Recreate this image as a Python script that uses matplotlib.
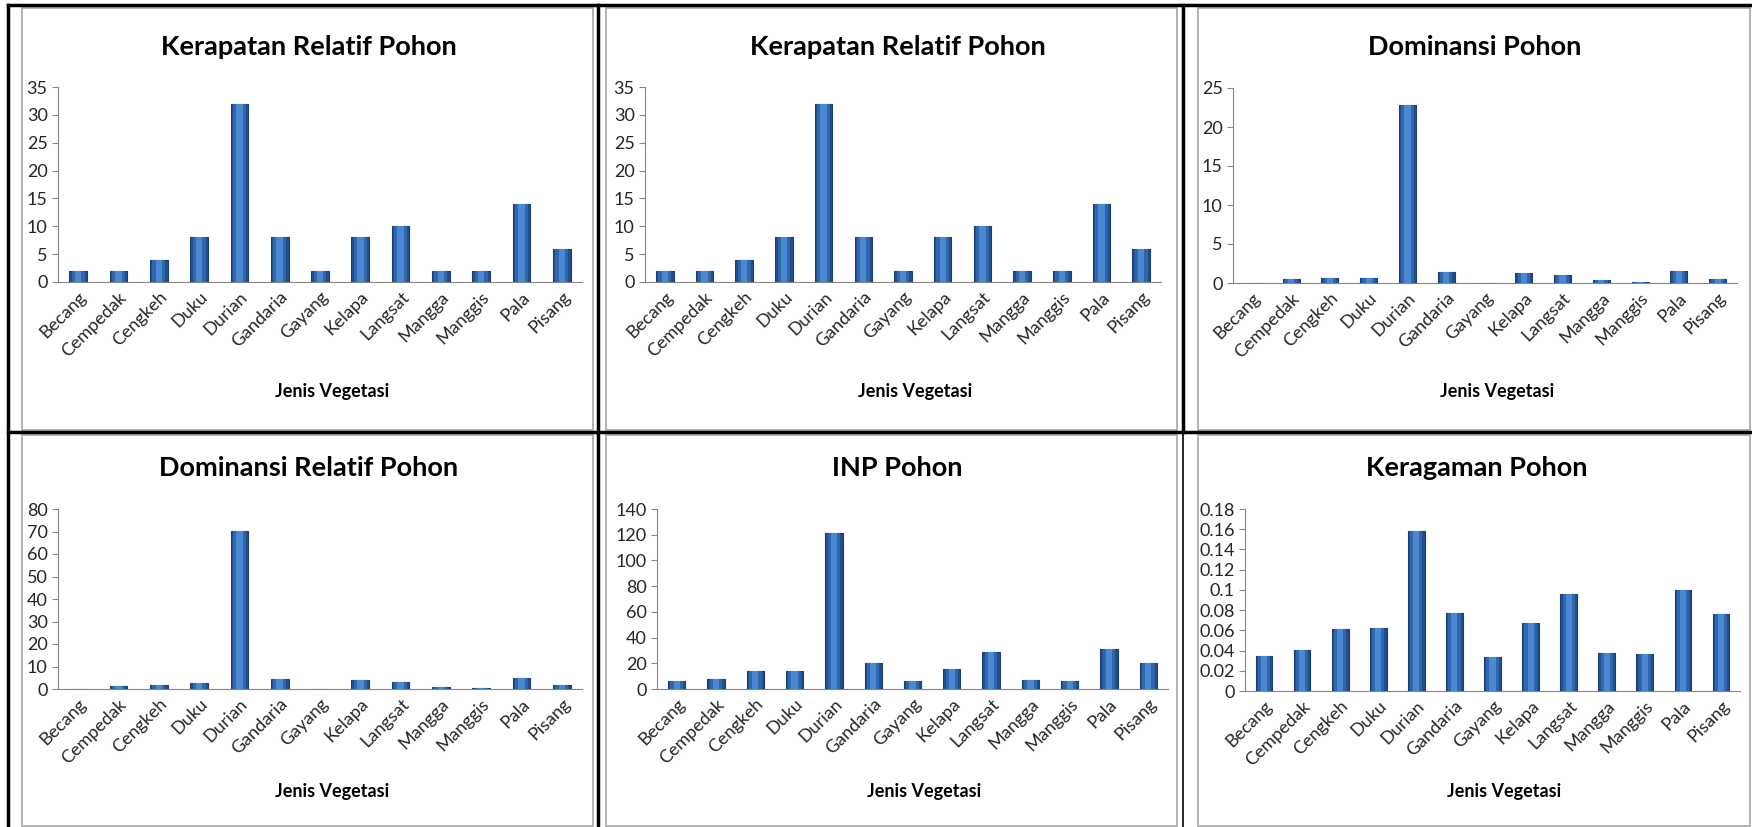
import matplotlib
matplotlib.use("Agg")
import matplotlib.pyplot as plt
import matplotlib.patches as patches
from matplotlib.ticker import FuncFormatter, MultipleLocator

plt.rcParams['font.family'] = ['Lato', 'DejaVu Sans']

jenis = ['Becang', 'Cempedak', 'Cengkeh', 'Duku', 'Durian', 'Gandaria', 'Gayang',
         'Kelapa', 'Langsat', 'Mangga', 'Manggis', 'Pala', 'Pisang']

kerapatan_relatif = [2, 2, 4, 8, 32, 8, 2, 8, 10, 2, 2, 14, 6]
dominansi = [0.05, 0.5, 0.65, 0.65, 22.8, 1.4, 0.02, 1.25, 1.0, 0.35, 0.15, 1.6, 0.5]
dominansi_relatif = [0.2, 1.5, 2.0, 2.5, 70.3, 4.5, 0.05, 4.0, 3.3, 1.0, 0.5, 4.9, 1.8]
inp = [6, 7.5, 14, 14, 121.5, 20, 6, 15.5, 29, 7, 6, 31, 20]
keragaman = [0.035, 0.041, 0.061, 0.062, 0.158, 0.077, 0.034, 0.067, 0.096, 0.038, 0.037, 0.100, 0.076]

W, H = 1752, 827
fig = plt.figure(figsize=(W / 100, H / 100), dpi=100)
fig.patch.set_facecolor('white')

# background layer in pixel coordinates for the frames
bg = fig.add_axes([0, 0, 1, 1], zorder=0)
bg.set_xlim(0, W)
bg.set_ylim(H, 0)
bg.axis('off')

# gray chart frames (Excel chart area borders)
frames = [(22, 8, 593, 430), (606, 8, 1177, 430), (1198, 8, 1750, 430),
          (22, 435, 593, 826), (606, 435, 1177, 826), (1198, 435, 1750, 826)]
for x0, y0, x1, y1 in frames:
    bg.add_patch(patches.Rectangle((x0, y0), x1 - x0, y1 - y0, fill=False,
                                   edgecolor='#a6a6a6', linewidth=1.2))

# black table lines
bg.plot([8, W], [5, 5], color='black', lw=2.5)
bg.plot([8, 8], [5, H], color='black', lw=2.5)
bg.plot([8, W], [432, 432], color='black', lw=2.5)
bg.plot([598, 598], [5, H], color='black', lw=2.5)
bg.plot([1183, 1183], [5, 432], color='black', lw=2.5)
bg.plot([1183, 1183], [432, H], color='black', lw=1.2)

# (title, values, ymax, step, axis box px: left, top, right, bottom, title centre x, title y, label y)
panels = [
    ('Kerapatan Relatif Pohon', kerapatan_relatif, 35, 5, (58, 87, 582, 282), 309, 47, 392),
    ('Kerapatan Relatif Pohon', kerapatan_relatif, 35, 5, (645, 87, 1161, 282), 898, 47, 392),
    ('Dominansi Pohon', dominansi, 25, 5, (1233, 88, 1737, 283), 1475, 47, 392),
    ('Dominansi Relatif Pohon', dominansi_relatif, 80, 10, (58, 509, 582, 689), 309, 468, 792),
    ('INP Pohon', inp, 140, 20, (657, 509, 1168, 689), 897, 468, 792),
    ('Keragaman Pohon', keragaman, 0.18, 0.02, (1245, 509, 1740, 691), 1477, 468, 792),
]

x = list(range(len(jenis)))
for title, vals, ymax, step, box, tx, ty, ly in panels:
    l, t, r, b = box
    ax = fig.add_axes([l / W, 1 - b / H, (r - l) / W, (b - t) / H], zorder=2)
    ax.patch.set_alpha(0)
    # layered bars give the rounded Excel look
    ax.bar(x, vals, width=0.44, color='#234e8c', edgecolor='#1b3f73', linewidth=0.8, zorder=3)
    ax.bar(x, vals, width=0.32, color='#2f66ad', linewidth=0, zorder=4)
    ax.bar(x, vals, width=0.16, color='#4a88d2', linewidth=0, zorder=5)
    ax.set_xlim(-0.5, len(jenis) - 0.5)
    ax.set_ylim(0, ymax)
    ax.yaxis.set_major_locator(MultipleLocator(step))
    ax.yaxis.set_major_formatter(FuncFormatter(lambda v, p: f"{round(v, 4):g}"))
    for s in ['top', 'right']:
        ax.spines[s].set_visible(False)
    ax.spines['left'].set_color('#868686')
    ax.spines['bottom'].set_color('#868686')
    ax.tick_params(axis='y', colors='#868686', labelcolor='#262626', labelsize=13, length=4, width=0.8)
    ax.tick_params(axis='x', length=0, labelcolor='#262626', labelsize=13, pad=5)
    ax.set_xticks(x)
    ax.set_xticklabels(jenis, rotation=45, ha='right', rotation_mode='anchor')
    bg.text(tx, ty, title, ha='center', va='center', fontsize=19.5, fontweight='bold', color='black')
    bg.text((l + r) / 2 + 12, ly, 'Jenis Vegetasi', ha='center', va='center', fontsize=13,
            fontweight='bold', color='black')

fig.savefig('out.png', dpi=100)
